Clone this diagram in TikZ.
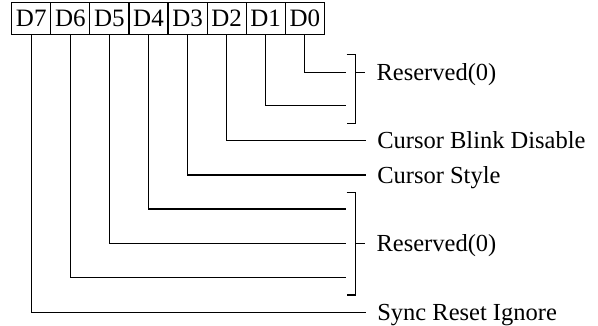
\documentclass[tikz,border=0pt]{standalone}
\usepackage{fontspec}
\setmainfont{Liberation Serif}
\begin{document}
\begin{tikzpicture}[x=1pt,y=-1pt,line width=1.2pt,
  cell/.style={draw,minimum width=39.08pt,minimum height=31.8pt,inner sep=0pt,
    font=\fontsize{25}{27}\selectfont,text height=16.6pt,text depth=0pt},
  lbl/.style={anchor=west,inner xsep=11pt,inner ysep=0pt,
    font=\fontsize{24.5}{26}\selectfont,text height=16.1pt,text depth=0pt}]
\useasboundingbox (0,0) rectangle (598,325);
% register cells
\foreach \i in {0,...,7}{
  \pgfmathtruncatemacro\b{7-\i}
  \node[cell] (d\b) at ({11.7+39.08*(\i+0.5)},18.6) {D\b};
}
% labels
\node[lbl] (res1) at (365,72.3) {Reserved(0)};
\node[lbl] (cbd)  at (365.7,140.7) {Cursor Blink Disable};
\node[lbl] (cst)  at (365.7,175) {Cursor Style};
\node[lbl] (res2) at (365,243.3) {Reserved(0)};
\node[lbl] (sri)  at (365.7,312.3) {Sync Reset Ignore};
% free ends of the reserved bit lines
\coordinate (e0) at (346,72.3);
\coordinate (e1) at (346,105.7);
\coordinate (e4) at (346,209);
\coordinate (e5) at (346,243.3);
\coordinate (e6) at (346,277.7);
% bracket corners
\coordinate (b1a) at (346.7,54.3);
\coordinate (b1b) at (355.7,54.3);
\coordinate (b1c) at (355.7,123.3);
\coordinate (b1d) at (346.7,123.3);
\coordinate (b1m) at (355.7,72.3);
\coordinate (b2a) at (346.7,192.3);
\coordinate (b2b) at (355.7,192.3);
\coordinate (b2c) at (355.7,295);
\coordinate (b2d) at (346.7,295);
\coordinate (b2m) at (355.7,243.3);
% connectors
\draw (d0.south) |- (e0);
\draw (d1.south) |- (e1);
\draw (d2.south) |- (cbd.west);
\draw (d3.south) |- (cst.west);
\draw (d4.south) |- (e4);
\draw (d5.south) |- (e5);
\draw (d6.south) |- (e6);
\draw (d7.south) |- (sri.west);
% brackets
\draw (b1a) -- (b1b) -- (b1c) -- (b1d);
\draw (b1m) -- (res1.west);
\draw (b2a) -- (b2b) -- (b2c) -- (b2d);
\draw (b2m) -- (res2.west);
\end{tikzpicture}
\end{document}
